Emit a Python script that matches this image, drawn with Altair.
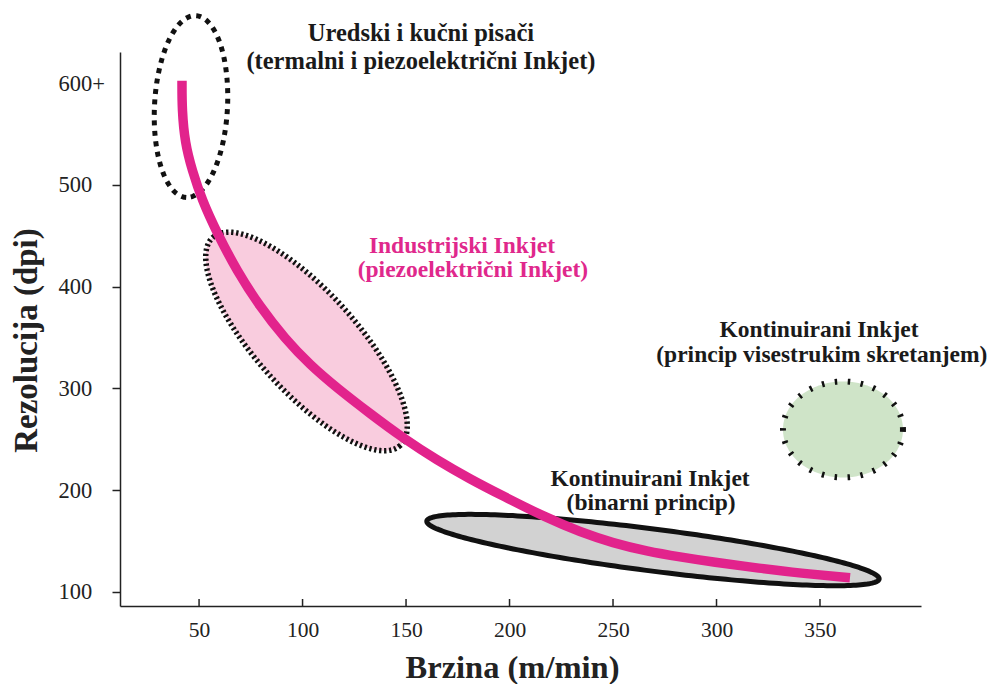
import altair as alt
import pandas as pd
import numpy as np

# ---------------- data ----------------
X_DOMAIN = [11.8, 398.8]
Y_DOMAIN = [86.2, 630.7]
X_TICKS = [50, 100, 150, 200, 250, 300, 350]
Y_TICKS = [100, 200, 300, 400, 500, 600]

curve_x = [41.75, 41.75, 43.2, 46.6, 51.4, 58.7, 68.3, 79.4, 91.5, 103.6, 116.6,
           132.6, 148.5, 165.0, 180.9, 196.8, 218.1, 234.1, 250.0, 266.4, 282.4,
           298.3, 321.0, 340.3, 364.5]
curve_y = [602.5, 573.7, 541.3, 514.7, 485.2, 452.8, 415.5, 380.4, 348.9, 323.1,
           300.5, 275.3, 251.3, 229.5, 211.0, 194.3, 172.7, 158.9, 148.1, 140.0,
           134.4, 129.4, 123.2, 118.5, 114.0]

# regions: centre (data units), semi-axes (px), rotation (deg)
region_names = ["office", "industrial", "binary", "multi"]
region_cx = [46.1, 101.9, 269.3, 361.1]
region_cy = [577.1, 346.2, 141.2, 259.7]
region_a = [91.0, 140.0, 228.0, 60.0]
region_b = [36.5, 50.0, 21.0, 48.0]
region_angle = [93.0, 48.0, 7.3, 0.0]

label_text = ["Uredski i kučni pisači", "(termalni i piezoelektrični Inkjet)",
              "Industrijski Inkjet", "(piezoelektrični Inkjet)",
              "Kontinuirani Inkjet", "(princip visestrukim skretanjem)",
              "Kontinuirani Inkjet", "(binarni princip)"]
label_x = [157.2, 157.2, 177.0, 182.3, 349.5, 350.9, 267.9, 268.4]
label_y = [642.0, 614.0, 433.1, 409.5, 350.6, 326.5, 204.6, 181.0]
label_size = [24.5, 24.5, 23.5, 23.5, 23.5, 23.5, 23.5, 23.5]
label_color = ["#1a1a1a", "#1a1a1a", "#E0288C", "#E0288C",
               "#1a1a1a", "#1a1a1a", "#1a1a1a", "#1a1a1a"]

# ---------------- layout ----------------
W, H = 801, 554
KX = W / (X_DOMAIN[1] - X_DOMAIN[0])
KY = H / (Y_DOMAIN[1] - Y_DOMAIN[0])
FONT = "Liberation Serif"


def ellipse_df(k, n=240):
    t = np.linspace(0, 2 * np.pi, n, endpoint=False)
    th = np.deg2rad(region_angle[k])
    a, b = region_a[k], region_b[k]
    dx = a * np.cos(t) * np.cos(th) - b * np.sin(t) * np.sin(th)
    dy = a * np.cos(t) * np.sin(th) + b * np.sin(t) * np.cos(th)
    return pd.DataFrame({"x": region_cx[k] + dx / KX,
                         "y": region_cy[k] - dy / KY,
                         "i": np.arange(n)})


x_axis = alt.Axis(values=X_TICKS, grid=False, ticks=False, tickSize=0,
                  domainColor="#222", domainWidth=1.5,
                  labelFont=FONT, labelFontSize=21.5, labelColor="#222",
                  labelPadding=13, labelBaseline="top",
                  title="Brzina (m/min)", titleFont=FONT, titleFontSize=32.5,
                  titleFontWeight="bold", titleColor="#222",
                  titleX=392, titleY=71, titleAlign="center",
                  titleBaseline="alphabetic")
y_axis = alt.Axis(values=Y_TICKS, grid=False,
                  labelExpr="datum.value == 600 ? '600+' : datum.label",
                  domainColor="#222", domainWidth=1.5,
                  tickColor="#222", tickWidth=1.5, tickSize=8,
                  tickOpacity={"condition": {"test": "datum.value == 600", "value": 0}, "value": 1},
                  labelFont=FONT, labelFontSize=22.5, labelColor="#222",
                  labelAlign="left", labelPadding=54, labelBaseline="middle",
                  title="Rezolucija (dpi)", titleFont=FONT, titleFontSize=33,
                  titleFontWeight="bold", titleColor="#222",
                  titleX=-84, titleY=288, titleAngle=270, titleAlign="center",
                  titleBaseline="alphabetic")

xs = alt.Scale(domain=X_DOMAIN, nice=False, zero=False)
ys = alt.Scale(domain=Y_DOMAIN, nice=False, zero=False)


def X(f="x"):
    return alt.X(f"{f}:Q", scale=xs, axis=x_axis)


def Y(f="y"):
    return alt.Y(f"{f}:Q", scale=ys, axis=y_axis)


styles = [
    dict(fill="transparent", stroke="#111", strokeWidth=5, strokeDash=[5, 5.5]),
    dict(fill="#F9CCDE", stroke="#111", strokeWidth=5.5, strokeDash=[2.3, 2.7]),
    dict(fill="#D2D2D2", stroke="#111", strokeWidth=5),
    dict(fill="#CFE4C8", stroke="#111", strokeWidth=6, strokeDash=[2.5, 10.5]),
]

layers = []
for k in range(len(region_names)):
    layers.append(
        alt.Chart(ellipse_df(k)).mark_line(interpolate="linear-closed",
                                           strokeCap="butt", **styles[k])
        .encode(x=X(), y=Y(), order="i:Q")
    )

curve_df = pd.DataFrame({"x": curve_x, "y": curve_y, "i": range(len(curve_x))})
curve = alt.Chart(curve_df).mark_line(color="#E2238C", strokeWidth=9.5,
                                      interpolate="basis", strokeCap="butt"
                                      ).encode(x=X(), y=Y(), order="i:Q")

tick_df = pd.DataFrame({"x": X_TICKS})
xticks = alt.Chart(tick_df).mark_rule(color="#222", strokeWidth=1.5).encode(
    x=X(), y=alt.value(H), y2=alt.value(H - 7))

text_df = pd.DataFrame({"x": label_x, "y": label_y, "t": label_text,
                        "c": label_color, "s": label_size})
texts = alt.Chart(text_df).mark_text(font=FONT, fontWeight="bold",
                                     align="center", baseline="alphabetic").encode(
    x=X(), y=Y(), text="t:N", color=alt.Color("c:N", scale=None),
    size=alt.Size("s:Q", scale=None))

chart = alt.layer(*layers, curve, xticks, texts).properties(
    width=W, height=H,
    autosize=alt.AutoSizeParams(type="none"),
    padding={"left": 112, "top": 44, "right": 66, "bottom": 78},
    background="white",
).configure_view(stroke=None)

chart.save("out.html", embed_options={"renderer": "svg", "actions": False})
